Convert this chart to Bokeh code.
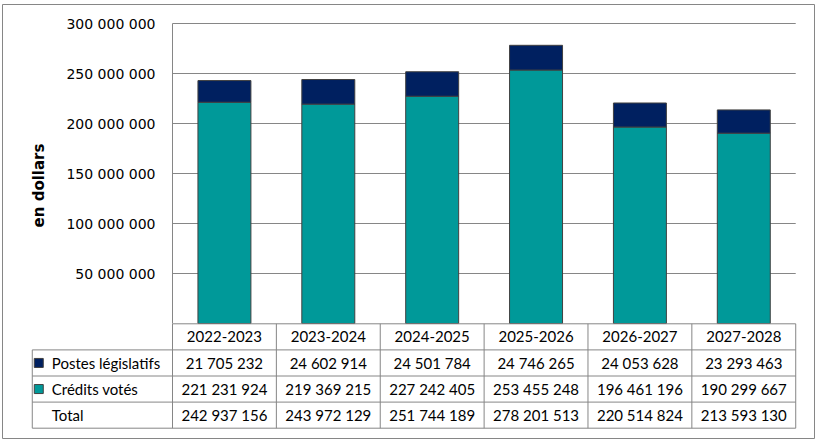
from bokeh.plotting import figure
from bokeh.models import Range1d, ColumnDataSource
from bokeh.embed import file_html
from bokeh.resources import INLINE
from bokeh.core.properties import value
import math

# ---- data ----
years = ["2022-2023", "2023-2024", "2024-2025", "2025-2026", "2026-2027", "2027-2028"]
postes = [21705232, 24602914, 24501784, 24746265, 24053628, 23293463]
credits = [221231924, 219369215, 227242405, 253455248, 196461196, 190299667]
series_names = ["Postes législatifs", "Crédits votés", "Total"]
y_ticks = [50000000, 100000000, 150000000, 200000000, 250000000, 300000000]
totals = [a + b for a, b in zip(postes, credits)]

NAVY = "#002060"
TEAL = "#009999"
GRID = "#868686"
EDGE = "#404040"

def fmt(v):
    return f"{v:,}".replace(",", " ")

# ---- layout (canvas pixels) ----
W, H = 813, 435
PX = 103.87          # px per category column
X0 = 170             # canvas x of the plot-area left edge
Y_TOP = 19           # canvas y of the 300 M gridline
PX_PER_VAL = 1e-6    # px per dollar
ROW0 = 319.3         # canvas y of the table top line
ROW_H = 26.1         # table row height
n = len(years)

x_lo, x_hi = -X0 / PX, (W - X0) / PX
y_hi = 300e6 + Y_TOP / PX_PER_VAL
y_lo = y_hi - H / PX_PER_VAL
t_top = -ROW0 / ROW_H
t_bot = (H - ROW0) / ROW_H

p = figure(width=W, height=H, x_range=Range1d(x_lo, x_hi), y_range=Range1d(y_lo, y_hi),
           x_axis_type=None, y_axis_type=None, output_backend="svg", toolbar_location=None,
           min_border=0, min_border_left=0, min_border_right=0, min_border_top=0,
           min_border_bottom=0, margin=(4, 0, 0, 2))
p.extra_y_ranges = {"table": Range1d(start=t_bot, end=t_top)}
p.grid.visible = False
p.outline_line_color = GRID
p.outline_line_width = 1

cx = [i + 0.5 for i in range(n)]

# gridlines
p.segment(x0=[0] * len(y_ticks), x1=[n] * len(y_ticks), y0=y_ticks, y1=y_ticks,
          line_color=GRID, line_width=1)
# value axis line
p.segment(x0=[0], x1=[0], y0=[0], y1=[y_ticks[-1]], line_color=GRID, line_width=1)

# bars
src = ColumnDataSource(dict(x=cx, credits=credits, postes=postes))
p.vbar_stack(["credits", "postes"], x="x", width=0.51, color=[TEAL, NAVY],
             line_color=EDGE, line_width=1, source=src)

# tick labels
p.text(x=[0] * len(y_ticks), y=y_ticks, text=[fmt(t) for t in y_ticks], x_offset=-17,
       text_align="right", text_baseline="middle", text_font=value("DejaVu Sans"),
       text_font_size="14px", text_color="#000000")

# axis title
p.text(x=[x_lo + 36.5 / PX], y=[138e6], text=["en dollars"], angle=math.pi / 2,
       text_align="center", text_baseline="middle", text_font=value("DejaVu Sans"),
       text_font_style="bold", text_font_size="15px", text_color="#000000")

# ---- data table ----
left = -1.35
hx0 = [0, left, left, left, left]
hx1 = [n] * 5
hy = [0, 1, 2, 3, 4]
p.segment(x0=hx0, y0=hy, x1=hx1, y1=hy, line_color=GRID, line_width=1, y_range_name="table")
vx = [left] + list(range(n + 1))
vy0 = [1] + [0] * (n + 1)
vy1 = [4] * (n + 2)
p.segment(x0=vx, y0=vy0, x1=vx, y1=vy1, line_color=GRID, line_width=1, y_range_name="table")

font = value("Lato")
p.text(x=cx, y=[0.5] * n, text=years, text_align="center", text_baseline="middle",
       text_font=font, text_font_size="15px", text_color="#000000", y_range_name="table")
for r, vals in enumerate([postes, credits, totals]):
    p.text(x=cx, y=[r + 1.5] * n, text=[fmt(v) for v in vals], text_align="center",
           text_baseline="middle", text_font=font, text_font_size="15px",
           text_color="#000000", y_range_name="table")
p.text(x=[left + 19.5 / PX] * 3, y=[1.5, 2.5, 3.5], text=series_names, text_align="left",
       text_baseline="middle", text_font=font, text_font_size="15px", text_color="#000000",
       y_range_name="table")
p.rect(x=[left + 6.5 / PX] * 2, y=[1.5, 2.5], width=9, height=9, width_units="screen",
       height_units="screen", fill_color=[NAVY, TEAL], line_color=EDGE, line_width=1,
       y_range_name="table")

open("out.html", "w").write(file_html(p, INLINE))
